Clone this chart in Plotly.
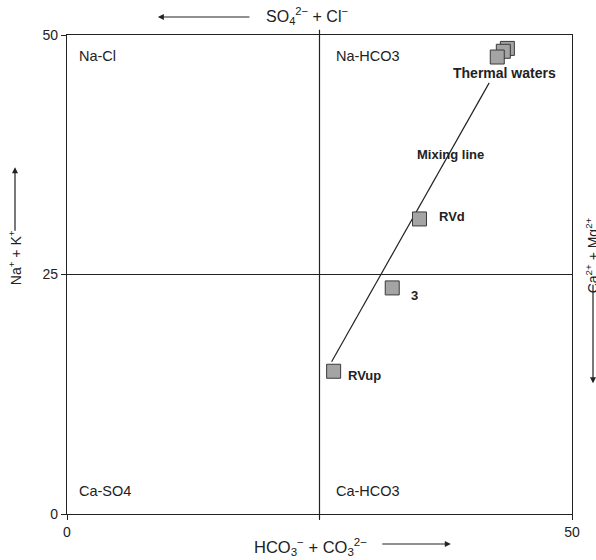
import plotly.graph_objects as go

# Sample positions on the diagram (x: HCO3 + CO3 axis, y: Na + K axis)
sample_names = ["RVup", "3", "RVd"]
sample_x = [26.4, 32.2, 34.9]
sample_y = [14.9, 23.6, 30.8]

thermal_x = [43.6, 43.2, 42.6]
thermal_y = [48.6, 48.3, 47.7]

mixing_x = [26.2, 41.8]
mixing_y = [15.9, 45.0]

quadrant_labels = ["Na-Cl", "Na-HCO3", "Ca-SO4", "Ca-HCO3"]
quadrant_x = [1.0, 26.4, 1.0, 26.4]
quadrant_y = [47.8, 47.8, 2.4, 2.4]

axis_ticks = [0, 25, 50]

FONT = "Liberation Sans, Arial, sans-serif"
fill = "#a4a4a4"
edge = "#3a3a3a"
ink = "#222"

fig = go.Figure()

fig.add_trace(go.Scatter(
    x=mixing_x, y=mixing_y, mode="lines",
    line=dict(color=ink, width=1.2), showlegend=False, hoverinfo="skip"))

fig.add_trace(go.Scatter(
    x=thermal_x, y=thermal_y, mode="markers",
    marker=dict(symbol="square", size=14, color=fill, line=dict(color=edge, width=1)),
    showlegend=False))

fig.add_trace(go.Scatter(
    x=sample_x, y=sample_y, mode="markers",
    marker=dict(symbol="square", size=14, color=fill, line=dict(color=edge, width=1)),
    showlegend=False))

# Point labels
point_labels = [
    ("RVup", 27.6, sample_y[0] - 0.4, 13),
    ("3", sample_x[1] + 1.7, sample_y[1] - 0.8, 13),
    ("RVd", 36.6, sample_y[2] + 0.3, 13),
    ("Mixing line", 34.5, 37.5, 13),
    ("Thermal waters", 38.0, 46.0, 14),
]
for txt, px, py, fs in point_labels:
    fig.add_annotation(x=px, y=py, text="<b>%s</b>" % txt, showarrow=False,
                       xanchor="left", yanchor="middle",
                       font=dict(family=FONT, size=fs, color=ink))

for txt, qx, qy in zip(quadrant_labels, quadrant_x, quadrant_y):
    fig.add_annotation(x=qx, y=qy, text=txt, showarrow=False,
                       xanchor="left", yanchor="middle",
                       font=dict(family=FONT, size=14.5, color=ink))

# Quadrant dividers, extending slightly past the frame like tick marks
fig.add_shape(type="line", xref="paper", yref="paper", x0=0.5, x1=0.5, y0=-0.011, y1=1.011,
              line=dict(color=ink, width=1.2))
fig.add_shape(type="line", xref="paper", yref="paper", x0=-0.01, x1=1.0, y0=0.5, y1=0.5,
              line=dict(color=ink, width=1.2))

# Axis titles with direction arrows
fig.add_annotation(xref="paper", yref="paper", x=0.39, y=1.0, yshift=19,
                   text="SO<sub>4</sub><sup>2\u2212</sup> + Cl<sup>\u2212</sup>",
                   showarrow=False, xanchor="left", yanchor="middle",
                   font=dict(family=FONT, size=16, color=ink))
fig.add_annotation(xref="paper", yref="paper", x=0.18, y=1.0, yshift=18, text="",
                   showarrow=True, arrowhead=2, arrowsize=1, arrowwidth=1.2, arrowcolor=ink,
                   ax=93, ay=0)

fig.add_annotation(xref="paper", yref="paper", x=0.367, y=0.0, yshift=-33,
                   text="HCO<sub>3</sub><sup>\u2212</sup> + CO<sub>3</sub><sup>2\u2212</sup>",
                   showarrow=False, xanchor="left", yanchor="middle",
                   font=dict(family=FONT, size=16.5, color=ink))
fig.add_annotation(xref="paper", yref="paper", x=0.76, y=0.0, yshift=-30, text="",
                   showarrow=True, arrowhead=2, arrowsize=1, arrowwidth=1.2, arrowcolor=ink,
                   ax=-70, ay=0)

fig.add_annotation(xref="paper", yref="paper", x=0.0, xshift=-52, y=0.534,
                   text="Na<sup>+</sup> + K<sup>+</sup>", textangle=-90,
                   showarrow=False, xanchor="center", yanchor="middle",
                   font=dict(family=FONT, size=14, color=ink))
fig.add_annotation(xref="paper", yref="paper", x=0.0, xshift=-52, y=0.724, text="",
                   showarrow=True, arrowhead=2, arrowsize=1, arrowwidth=1.2, arrowcolor=ink,
                   ax=0, ay=65)

fig.add_annotation(xref="paper", yref="paper", x=1.0, xshift=20, y=0.54,
                   text="Ca<sup>2+</sup> + Mg<sup>2+</sup>", textangle=-90,
                   showarrow=False, xanchor="center", yanchor="middle",
                   font=dict(family=FONT, size=14, color=ink))
fig.add_annotation(xref="paper", yref="paper", x=1.0, xshift=21, y=0.273, text="",
                   showarrow=True, arrowhead=2, arrowsize=1, arrowwidth=1.2, arrowcolor=ink,
                   ax=0, ay=-100)

axis_common = dict(range=[0, 50], tickvals=axis_ticks, showgrid=False, zeroline=False,
                   showline=True, linecolor=ink, linewidth=1.2, mirror=True,
                   ticks="outside", ticklen=5, tickcolor=ink,
                   tickfont=dict(family=FONT, size=14, color=ink))

fig.update_xaxes(**axis_common, ticktext=["0", "", "50"])
fig.update_yaxes(**axis_common, ticktext=["0", "25", "50"])

fig.update_layout(
    width=596, height=560,
    margin=dict(l=67, r=24, t=35, b=46),
    plot_bgcolor="white", paper_bgcolor="white",
    showlegend=False,
)

fig.write_html("out.html")
